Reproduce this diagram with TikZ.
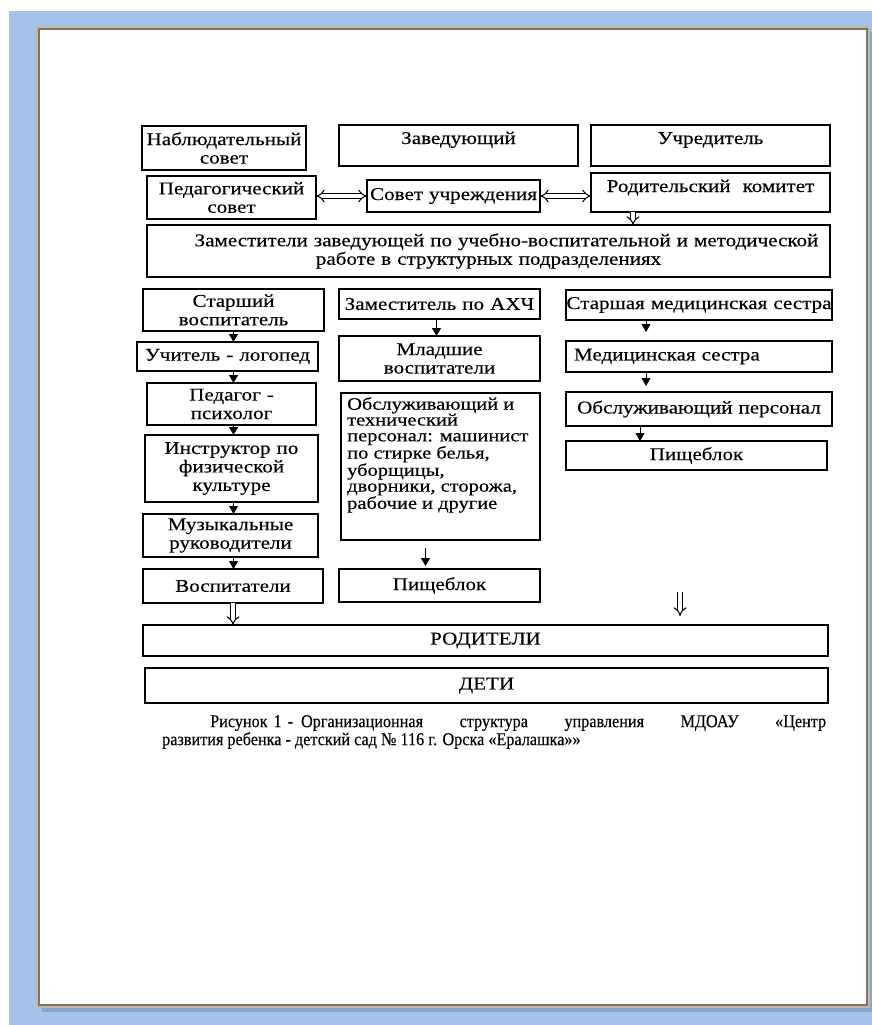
\documentclass[tikz,border=0pt]{standalone}
\usepackage{fontspec}
\setmainfont{Liberation Serif}[FakeStretch=1.17, FakeBold=0.3]
\newfontfamily\capfont{Liberation Serif}[FakeStretch=0.9, FakeBold=0.3]
\usetikzlibrary{arrows.meta}
\definecolor{bgblue}{RGB}{164,194,234}
\definecolor{shadowblue}{RGB}{125,152,196}
\definecolor{pageedge}{RGB}{128,118,104}
\definecolor{pageedge2}{RGB}{196,182,162}
\begin{document}
\begin{tikzpicture}[x=1pt,y=-1pt,
  box/.style={draw, line width=1.3pt, inner sep=0pt, outer sep=0pt, align=center, anchor=north west, font=\fontsize{18}{18.5}\selectfont},
  tri/.style={line width=1pt, -{Triangle[width=9pt,length=8pt]}},
  hol/.style={double, double distance=3.5pt, line width=1pt, -{Implies}},
  hol2/.style={double, double distance=3.5pt, line width=1pt, {Implies}-{Implies}},
  txt/.style={inner sep=0pt, anchor=north west, align=left, font=\fontsize{17.5}{15.8}\selectfont}
]
\useasboundingbox (0,0) rectangle (872,1025);
\fill[white] (0,0) rectangle (872,1025);
\fill[bgblue] (9,11) rectangle (872,1025);
\fill[shadowblue, opacity=0.7] (42,32) rectangle (872,1012);
\fill[white] (38,28) rectangle (868,1006);
\draw[pageedge2, line width=2pt] (37,27) rectangle (869,1007);
\draw[pageedge, line width=1.2pt] (39,29) rectangle (867,1005);

% row 1
\node[box, minimum width=164pt, minimum height=44pt, text width=164pt] (nab) at (142,126) {Наблюдательный\\совет};
\node[box, minimum width=239pt, minimum height=41pt, text width=239pt, text height=13pt, text depth=16pt] (zav) at (339,125) {Заведующий};
\node[box, minimum width=239pt, minimum height=41pt, text width=239pt, text height=13pt, text depth=16pt] (uch) at (591,125) {Учредитель};
% row 2
\node[box, minimum width=169pt, minimum height=43pt, text width=169pt] (ped) at (147,176) {Педагогический\\совет};
\node[box, minimum width=173pt, minimum height=32pt, text width=173pt] (sov) at (367,180) {Совет учреждения};
\node[box, minimum width=239pt, minimum height=39pt, text width=239pt, text height=13pt, text depth=14pt] (rod) at (591,173) {Родительский\ \ комитет};
% row 3
\node[box, minimum width=683pt, minimum height=52pt, text width=683pt] (zam) at (147,225) {\hspace*{36pt}Заместители заведующей по учебно-воспитательной и методической\\работе в структурных подразделениях};
% column 1
\node[box, minimum width=181pt, minimum height=42pt, text width=181pt] (st) at (143,289) {Старший\\воспитатель};
\node[box, minimum width=181pt, minimum height=29pt, text width=181pt] (log) at (137,342) {Учитель - логопед};
\node[box, minimum width=169pt, minimum height=42pt, text width=169pt] (psy) at (147,383) {Педагог -\\психолог};
\node[box, minimum width=173pt, minimum height=67pt, text width=173pt] (ins) at (145,435) {Инструктор по\\физической\\культуре};
\node[box, minimum width=175pt, minimum height=43pt, text width=175pt] (muz) at (143,514) {Музыкальные\\руководители};
\node[box, minimum width=180pt, minimum height=34pt, text width=180pt] (vos) at (143,569) {Воспитатели};
% column 2
\node[box, minimum width=201pt, minimum height=30pt, text width=201pt] (ahc) at (339,289) {Заместитель по АХЧ};
\node[box, minimum width=201pt, minimum height=45pt, text width=201pt] (mla) at (339,336) {Младшие\\воспитатели};
\node[box, minimum width=199pt, minimum height=147pt] (obs) at (341,393) {};
\node[txt] (obst) at (347,397) {Обслуживающий и\\технический\\персонал: машинист\\по стирке белья,\\уборщицы,\\дворники, сторожа,\\рабочие и другие};
\node[box, minimum width=201pt, minimum height=33pt, text width=201pt] (pish2) at (339,569) {Пищеблок};
% column 3
\node[box, minimum width=266pt, minimum height=30pt, text width=266pt] (smed) at (566,290) {Старшая медицинская сестра};
\node[box, minimum width=266pt, minimum height=31pt, text width=266pt, align=left] (med) at (566,341) {\hspace*{8pt}Медицинская сестра};
\node[box, minimum width=266pt, minimum height=34pt, text width=266pt] (obp) at (566,392) {Обслуживающий персонал};
\node[box, minimum width=261pt, minimum height=29pt, text width=261pt] (pish3) at (566,441) {Пищеблок};
% bottom
\node[box, minimum width=685pt, minimum height=31pt, text width=685pt] (rodit) at (143,625) {РОДИТЕЛИ};
\node[box, minimum width=683pt, minimum height=35pt, text width=683pt] (deti) at (145,668) {ДЕТИ};
% caption
\node[anchor=north west, inner sep=0pt, text width=664pt, align=justify, font=\capfont\fontsize{18}{18}\selectfont] (cap) at (162,715) {\hspace*{48pt}Рисунок\hspace{6pt}1\hspace{6pt}-\hspace{8pt}Организационная структура управления МДОАУ «Центр\linebreak развития ребенка - детский сад № 116 г. Орска «Ералашка»»};

% connectors
\draw[hol2] (ped.east |- sov.west) -- (sov.west);
\draw[hol2] (sov.east) -- (sov.east -| rod.west);
\draw[hol] ([xshift=-77.5pt]rod.south) -- ([xshift=-77.5pt]rod.south |- zam.north);

\draw[tri] (st.south) -- (st.south |- log.north);
\draw[tri] (log.south -| st.south) -- (st.south |- psy.north);
\draw[tri] (psy.south -| st.south) -- (st.south |- ins.north);
\draw[tri] (ins.south -| st.south) -- (st.south |- muz.north);
\draw[tri] (muz.south -| st.south) -- (st.south |- vos.north);
\draw[hol] (vos.south) -- (vos.south |- rodit.north);

\draw[tri] ([xshift=-3pt]ahc.south) -- ([xshift=-3pt]ahc.south |- mla.north);
\draw[tri, shorten <=8pt, shorten >=3pt] ([xshift=-15pt]obs.south) -- ([xshift=-15pt]obs.south |- pish2.north);

\draw[tri, shorten >=9pt] ([xshift=-53pt]smed.south) -- ([xshift=-53pt]smed.south |- med.north);
\draw[tri, shorten >=6pt] ([xshift=-53pt]med.south) -- ([xshift=-53pt]med.south |- obp.north);
\draw[tri] ([xshift=-59pt]obp.south) -- ([xshift=-59pt]obp.south |- pish3.north);

\coordinate (fa) at (680,592);
\coordinate (fb) at (680,616);
\draw[hol] (fa) -- (fb);
\end{tikzpicture}
\end{document}
